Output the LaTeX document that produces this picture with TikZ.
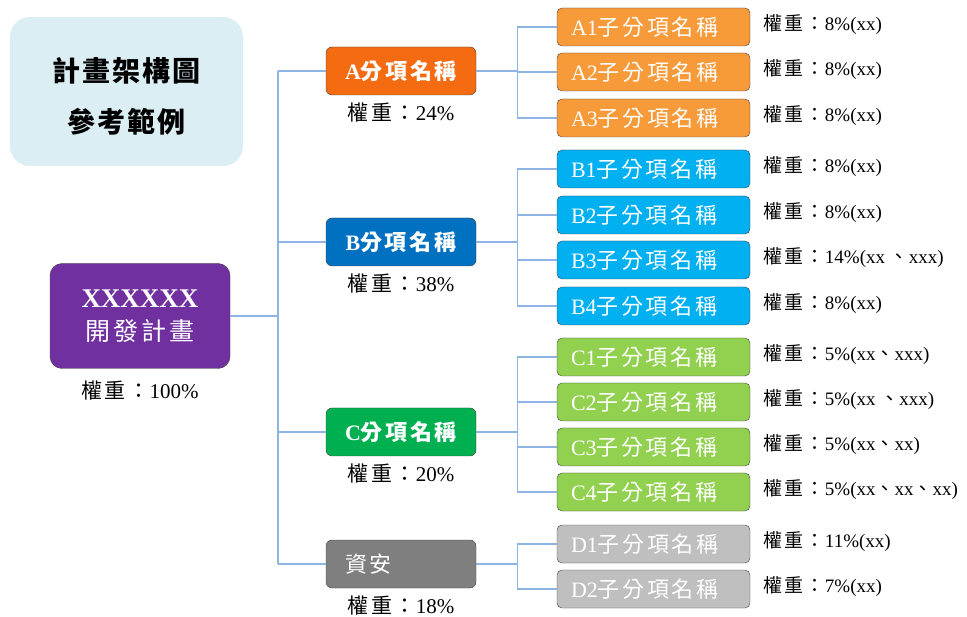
\documentclass[tikz,border=0pt]{standalone}
\usepackage{fontspec}
\usepackage{tikz}
\setmainfont{Liberation Serif}
\newfontfamily\cjk[LetterSpace=12]{Noto Sans CJK TC}
\newfontfamily\cjktitle[LetterSpace=8]{Noto Sans CJK TC}
\usetikzlibrary{positioning}

\definecolor{titlebg}{HTML}{DAEEF3}
\definecolor{rootpurple}{HTML}{7030A0}
\definecolor{amain}{HTML}{F46B12}
\definecolor{asub}{HTML}{F79A3A}
\definecolor{bmain}{HTML}{0070C0}
\definecolor{bsub}{HTML}{00B0F0}
\definecolor{cmain}{HTML}{00B050}
\definecolor{csub}{HTML}{92D050}
\definecolor{dmain}{HTML}{7F7F7F}
\definecolor{dsub}{HTML}{BFBFBF}
\definecolor{boxline}{HTML}{404040}
\definecolor{linkblue}{HTML}{8EB4E3}

\tikzset{
  mainbox/.style={draw=boxline, rounded corners=6pt, minimum width=150pt,
    minimum height=48pt, inner sep=0pt, text=white,
    font=\bfseries\fontsize{22}{26}\selectfont},
  subbox/.style={draw=boxline, rounded corners=5pt, minimum width=193pt,
    minimum height=38pt, inner sep=0pt, text=white, text width=165pt, align=left,
    font=\fontsize{22}{24}\selectfont},
  weight/.style={inner sep=0pt, font=\fontsize{21}{24}\selectfont},
  sidenote/.style={inner sep=0pt, anchor=west, font=\fontsize{19}{22}\selectfont},
  branch/.style={draw=linkblue, line width=1.2pt},
}
\newcommand{\dun}{{\cjk 、}}

\begin{document}
\begin{tikzpicture}[x=1pt, y=-1pt]
\useasboundingbox (0,0) rectangle (967,617);

% title card
\node[fill=titlebg, rounded corners=20pt, minimum width=233pt, minimum height=149pt]
  (title) at (126.5,91.5) {};
\node[align=center, inner sep=0pt, font=\cjktitle\bfseries\fontsize{28}{51}\selectfont]
  (titletext) at ([yshift=-5pt]title.center) {計畫架構圖\\參考範例};

% root
\node[fill=rootpurple, draw=boxline, rounded corners=12pt, minimum width=180pt,
  minimum height=105pt, align=center, text=white, font=\fontsize{27}{33}\selectfont]
  (root) at (140,316)
  {{\bfseries XXXXXX}\\{\cjk\fontsize{25}{33}\selectfont 開發計畫}};
\node[weight, below=12pt of root] (rootw) {{\cjk 權重：}100\%};

% main items
\node[mainbox, fill=amain] (A) at (401,71) {A{\cjk 分項名稱}};
\node[mainbox, fill=bmain] (B) at (401,242) {B{\cjk 分項名稱}};
\node[mainbox, fill=cmain] (C) at (401,432) {C{\cjk 分項名稱}};
\node[mainbox, fill=dmain, text width=112pt, align=left,
  font=\cjk\fontsize{22}{26}\selectfont] (D) at (401,564) {資安};

\node[weight, below=7pt of A] (Aw) {{\cjk 權重：}24\%};
\node[weight, below=7pt of B] (Bw) {{\cjk 權重：}38\%};
\node[weight, below=7pt of C] (Cw) {{\cjk 權重：}20\%};
\node[weight, below=7pt of D] (Dw) {{\cjk 權重：}18\%};

% sub items
\foreach \n/\y/\c in {A1/27/asub, A2/72/asub, A3/118/asub,
    B1/169/bsub, B2/215/bsub, B3/260/bsub, B4/306/bsub,
    C1/357/csub, C2/402/csub, C3/447/csub, C4/492/csub,
    D1/544/dsub, D2/589/dsub}
  \node[subbox, fill=\c] (\n) at (653.5,\y) {\n{\cjk 子分項名稱}};

\foreach \n/\w in {A1/{8\%(xx)}, A2/{8\%(xx)}, A3/{8\%(xx)},
    B1/{8\%(xx)}, B2/{8\%(xx)}, B3/{14\%(xx \dun xxx)}, B4/{8\%(xx)},
    C1/{5\%(xx\dun xxx)}, C2/{5\%(xx \dun xxx)}, C3/{5\%(xx\dun xx)},
    C4/{5\%(xx\dun xx\dun xx)}, D1/{11\%(xx)}, D2/{7\%(xx)}}
  \node[sidenote] (\n w) at ([xshift=13pt, yshift=2pt]\n.east) {{\cjk 權重：}\w};

% connectors
\coordinate (trunk) at (278,316);
\draw[branch] (root.east) -- (trunk);
\draw[branch] (trunk |- A.west) -- (trunk |- D.west);
\foreach \m in {A,B,C,D}
  \draw[branch] (trunk |- \m.west) -- (\m.west);

\foreach \m/\first/\last in {A/A1/A3, B/B1/B4, C/C1/C4, D/D1/D2} {
  \coordinate (\m fork) at ([xshift=41pt]\m.east);
  \draw[branch] (\m.east) -- (\m fork);
  \draw[branch] (\m fork |- \first.west) -- (\m fork |- \last.west);
}
\foreach \n/\m in {A1/A, A2/A, A3/A, B1/B, B2/B, B3/B, B4/B,
    C1/C, C2/C, C3/C, C4/C, D1/D, D2/D}
  \draw[branch] (\m fork |- \n.west) -- (\n.west);
\end{tikzpicture}
\end{document}
